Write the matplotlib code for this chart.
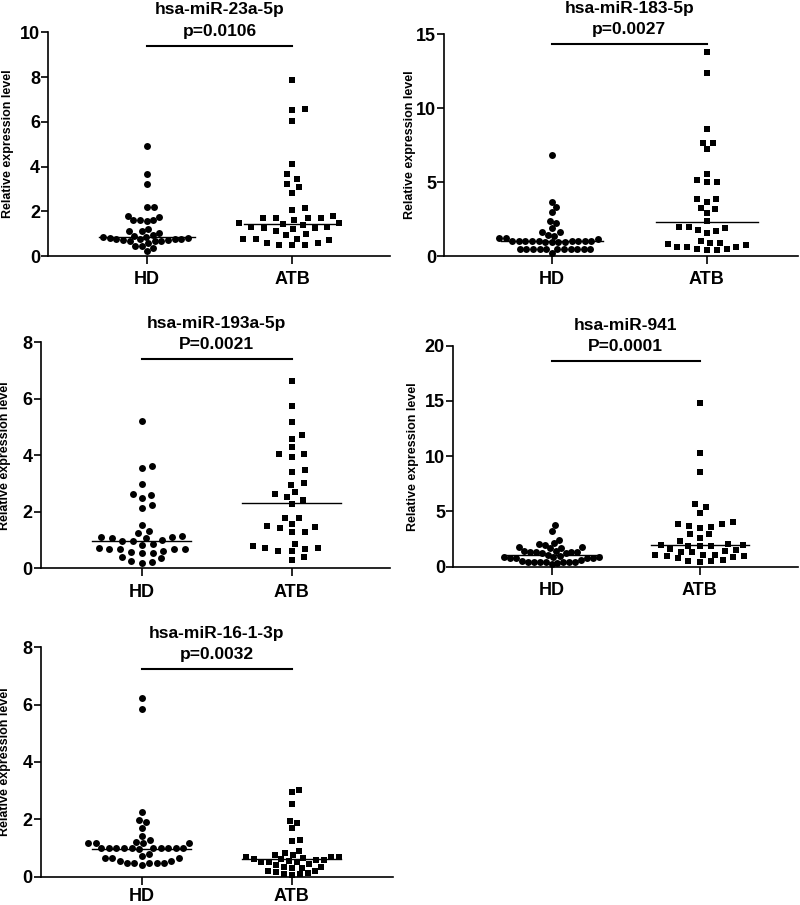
import numpy as np
import matplotlib
matplotlib.use('Agg')
import matplotlib.pyplot as plt

plt.rcParams['font.family'] = ['Liberation Sans', 'DejaVu Sans']
plt.rcParams['font.weight'] = 'bold'

groups = ['HD', 'ATB']
mirnas = ['hsa-miR-23a-5p', 'hsa-miR-183-5p', 'hsa-miR-193a-5p', 'hsa-miR-941', 'hsa-miR-16-1-3p']
p_labels = ['p=0.0106', 'p=0.0027', 'P=0.0021', 'P=0.0001', 'p=0.0032']

# relative expression
hd_23a = [4.93, 3.65, 3.22, 2.2, 2.2, 1.79, 1.76, 1.62, 1.55, 1.62, 1.6, 1.22, 1.1, 1.12, 0.9, 0.78, 0.65, 0.65,
          0.65, 0.78, 0.75, 0.8, 0.72, 0.78, 0.8, 0.83, 0.95, 1.05, 0.86, 0.56, 0.7, 0.34, 0.45, 0.45, 0.24]
atb_23a = [7.87, 6.56, 6.53, 6.05, 4.1, 3.65, 3.43, 3.22, 3.1, 2.83, 2.13, 2.06, 1.79, 1.68, 1.68, 1.68, 1.68, 1.61,
           1.46, 1.46, 1.43, 1.39, 1.31, 1.31, 1.24, 1.24, 1.21, 1.13, 1.0, 0.94, 0.78, 0.78, 0.75, 0.72, 0.57,
           0.57, 0.5, 0.49, 0.49]
hd_183 = [6.83, 3.68, 3.29, 2.95, 2.37, 2.26, 1.9, 1.65, 1.6, 1.45, 1.38, 1.2, 1.2, 1.15, 1.02, 0.95, 1.0, 1.05, 1.0,
          0.98, 1.03, 0.97, 1.0, 1.02, 0.99, 1.0, 0.95, 0.45, 0.45, 0.45, 0.45, 0.45, 0.45, 0.45, 0.45, 0.45, 0.45,
          0.45, 0.2]
atb_183 = [13.83, 12.41, 8.57, 7.62, 7.67, 7.24, 5.55, 5.03, 5.12, 5.03, 3.86, 3.86, 3.68, 3.16, 3.27, 2.89, 2.37,
           1.99, 1.76, 1.69, 1.92, 1.99, 1.53, 0.79, 0.45, 0.74, 0.63, 0.63, 0.86, 0.41, 0.63, 0.41, 0.45, 1.04, 0.86]
hd_193a = [5.22, 3.55, 3.63, 2.97, 2.48, 2.63, 2.61, 2.15, 2.24, 1.53, 1.32, 1.24, 1.0, 1.06, 1.12, 1.1, 1.06, 1.16,
           0.73, 0.55, 0.63, 0.83, 0.98, 0.98, 0.55, 0.86, 0.59, 0.67, 0.67, 0.67, 0.67, 0.24, 0.39, 0.26, 0.38, 0.18]
atb_193a = [6.63, 5.75, 5.19, 4.72, 4.57, 4.31, 4.04, 4.04, 3.95, 3.48, 3.4, 2.95, 3.03, 2.62, 2.71, 2.51, 2.42, 2.28,
            1.77, 1.77, 1.47, 1.42, 1.3, 1.56, 1.3, 1.5, 0.79, 0.73, 0.61, 0.71, 0.67, 0.41, 0.63, 0.85, 0.3]
hd_941 = [3.77, 3.26, 2.45, 2.17, 2.03, 2.0, 1.76, 1.75, 1.7, 1.65, 1.42, 1.36, 1.36, 1.36, 1.4, 1.3, 1.2, 1.2, 1.06,
          0.95, 0.9, 0.85, 0.82, 0.8, 0.82, 0.85, 0.75, 0.55, 0.45, 0.6, 0.45, 0.4, 0.38, 0.4, 0.42, 0.45, 0.45, 0.24]
atb_941 = [14.84, 10.26, 8.54, 5.43, 5.64, 4.89, 3.83, 3.71, 3.62, 3.83, 3.5, 4.02, 2.93, 2.93, 2.57, 2.35, 2.0, 1.95,
           1.9, 1.85, 2.05, 1.9, 1.6, 1.45, 1.36, 1.5, 1.3, 1.06, 1.06, 1.1, 0.97, 0.97, 0.9, 0.75, 0.6, 0.54, 0.5,
           0.45]
hd_16 = [6.24, 5.84, 2.27, 1.98, 1.9, 1.71, 1.42, 1.28, 1.19, 1.16, 1.16, 1.16, 1.2, 0.99, 0.99, 0.99, 0.99, 0.99,
         0.99, 0.95, 0.99, 0.99, 0.99, 0.99, 0.78, 0.72, 0.64, 0.64, 0.64, 0.56, 0.47, 0.41, 0.47, 0.47, 0.47, 0.47,
         0.56]
atb_16 = [3.02, 2.94, 2.53, 1.95, 1.88, 1.71, 1.26, 1.28, 0.91, 0.76, 0.76, 0.81, 0.7, 0.7, 0.7, 0.52, 0.55, 0.58,
          0.52, 0.58, 0.5, 0.62, 0.65, 0.45, 0.6, 0.31, 0.31, 0.2, 0.2, 0.35, 0.15, 0.12, 0.35, 0.08, 0.06, 0.1, 0.4]

hd_values = [hd_23a, hd_183, hd_193a, hd_941, hd_16]
atb_values = [atb_23a, atb_183, atb_193a, atb_941, atb_16]
hd_median = [0.86, 1.04, 0.97, 1.06, 0.95]
atb_median = [1.43, 2.32, 2.3, 1.96, 0.6]

y_max = [10, 15, 8, 20, 8]
y_step = [2, 5, 2, 5, 2]
bar_level = [9.39, 14.32, 7.4, 18.6, 7.23]

# layout (figure fractions) and x ranges, one per panel
rects = [[0.0604, 0.7171, 0.4271, 0.2472],
         [0.5554, 0.7171, 0.4421, 0.2450],
         [0.0509, 0.3720, 0.4366, 0.2497],
         [0.5666, 0.3738, 0.4309, 0.2442],
         [0.0509, 0.0313, 0.4404, 0.2535]]
x_lims = [(-0.676, 1.671), (-0.693, 1.589), (-0.673, 1.655), (-0.664, 1.663), (-0.673, 1.675)]
label_x = [-0.10, -0.08, -0.085, -0.10, -0.085]
xlab_pad = [5, 5, 5, 5, 2]
# horizontal spacing of the dots in each column (pixels), prism spreads them unevenly
hd_gap = [6.8, 6.6, 11.0, 6.0, 7.6]
atb_gap = [13.0, 10.0, 13.5, 11.5, 8.0]


def swarm_x(ax, center, values, gap, diam=7.0):
	# beeswarm in pixel space, elliptical spacing: gap across, diam up/down
	pts = ax.transData.transform(np.column_stack([np.full(len(values), center), values]))
	cx = pts[0, 0]
	ys = pts[:, 1]
	offs = np.zeros(len(values))
	placed = []
	for i in np.argsort(ys):
		y = ys[i]
		near = [(px, py) for px, py in placed if abs(py - y) < diam]
		cands = [0.0]
		for px, py in near:
			dx = np.sqrt(diam ** 2 - (py - y) ** 2)
			cands += [px + dx, px - dx]
		cands.sort(key=lambda c: (round(abs(c), 3), -c))
		for c in cands:
			if all((c - px) ** 2 + (y - py) ** 2 >= diam ** 2 - 1e-6 for px, py in near):
				break
		offs[i] = c
		placed.append((c, y))
	offs = offs * gap / diam
	back = ax.transData.inverted().transform(np.column_stack([cx + offs, ys]))
	return back[:, 0]


def draw_panel(fig, k):
	ax = fig.add_axes(rects[k])
	ax.set_xlim(*x_lims[k])
	ax.set_ylim(0, y_max[k])
	ax.spines['top'].set_visible(False)
	ax.spines['right'].set_visible(False)
	for s in ['left', 'bottom']:
		ax.spines[s].set_linewidth(1.2)
	ax.set_xticks([0, 1])
	ax.set_xticklabels(groups, fontsize=13, fontweight='bold')
	ax.set_yticks(np.arange(0, y_max[k] + 0.1, y_step[k]))
	ax.tick_params(axis='y', labelsize=13, width=1.2, length=5, pad=1)
	ax.tick_params(axis='x', width=1.2, length=6, pad=xlab_pad[k])
	ax.set_ylabel('Relative expression level', fontsize=9, fontweight='bold')
	ax.yaxis.set_label_coords(label_x[k], 0.5)

	hx = swarm_x(ax, 0, hd_values[k], hd_gap[k])
	ax.plot(hx, hd_values[k], 'o', color='black', ms=5.0, mew=0, clip_on=False)
	bx = swarm_x(ax, 1, atb_values[k], atb_gap[k])
	ax.plot(bx, atb_values[k], 's', color='black', ms=4.8, mew=0, clip_on=False)

	# median lines
	ax.plot([-0.33, 0.33], [hd_median[k]] * 2, color='black', lw=1.0)
	ax.plot([0.67, 1.33], [atb_median[k]] * 2, color='black', lw=1.0)

	# significance bar and titles
	ax.plot([0, 1], [bar_level[k]] * 2, color='black', lw=1.5, clip_on=False)
	ax.annotate(p_labels[k], xy=(0.5, bar_level[k]), xytext=(0, 7.5), textcoords='offset points',
				ha='center', va='baseline', fontsize=12.5, fontweight='bold', annotation_clip=False)
	ax.annotate(mirnas[k], xy=(0.5, bar_level[k]), xytext=(0, 22.8), textcoords='offset points',
				ha='center', va='baseline', fontsize=12.5, fontweight='bold', annotation_clip=False)
	return ax


def main():
	fig = plt.figure(figsize=(8, 9.05), dpi=100)
	for k in range(len(mirnas)):
		draw_panel(fig, k)
	fig.savefig('out.png', dpi=100, facecolor='white')
	plt.close(fig)


if __name__ == '__main__':
	main()
